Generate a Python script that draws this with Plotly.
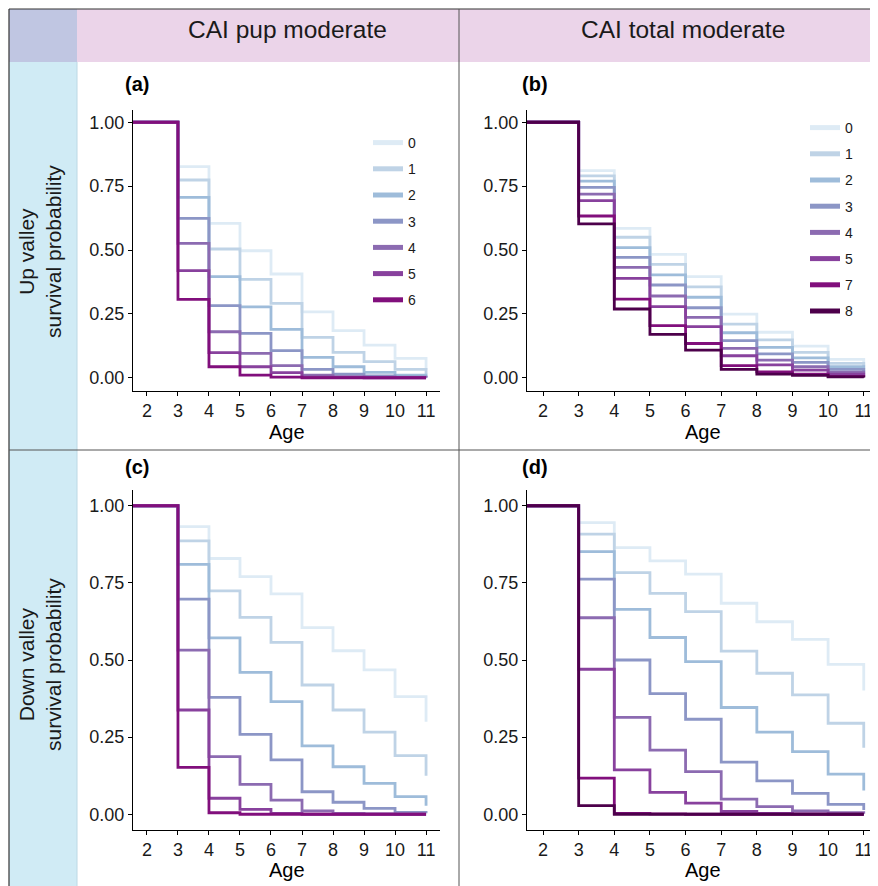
import plotly.graph_objects as go

# page body has an 8px margin: figure origin sits at (8, 8) of the window
OFF = 8
W, H = 870, 878
FONT = "Liberation Sans, Arial, Helvetica, sans-serif"

ages = [1, 2, 3, 4, 5, 6, 7, 8, 9, 10, 11]
x_ticks = [2, 3, 4, 5, 6, 7, 8, 9, 10, 11]
y_ticks = [0, 0.25, 0.5, 0.75, 1.0]

col_titles = ["CAI pup moderate", "CAI total moderate"]
row_titles = ["Up valley<br>survival probability", "Down valley<br>survival probability"]
panel_tags = ["(a)", "(b)", "(c)", "(d)"]

# series colours (BuPu palette, by group id)
group_colors = {
    "0": "#DEEBF5", "1": "#BFD3E6", "2": "#9EBCDA", "3": "#8C96C6",
    "4": "#8C6BB1", "5": "#88419D", "6": "#810F7C", "7": "#810F7C", "8": "#4D004B",
}

# (a) Up valley, CAI pup moderate
up_pup = {
    "0": [1, 1, 0.826, 0.604, 0.497, 0.406, 0.258, 0.184, 0.128, 0.076, 0.030],
    "1": [1, 1, 0.774, 0.504, 0.385, 0.291, 0.158, 0.099, 0.063, 0.033, 0.015],
    "2": [1, 1, 0.706, 0.396, 0.277, 0.189, 0.080, 0.043, 0.021, 0.010, 0.005],
    "3": [1, 1, 0.624, 0.282, 0.174, 0.106, 0.033, 0.014, 0.007, 0.003, 0.001],
    "4": [1, 1, 0.526, 0.180, 0.095, 0.047, 0.010, 0.004, 0.002, 0.001, 0.0],
    "5": [1, 1, 0.419, 0.098, 0.043, 0.020, 0.002, 0.001, 0.0, 0.0, 0.0],
    "6": [1, 1, 0.307, 0.043, 0.010, 0.002, 0.0, 0.0, 0.0, 0.0, 0.0],
}
# (b) Up valley, CAI total moderate
up_total = {
    "0": [1, 1, 0.811, 0.585, 0.483, 0.396, 0.249, 0.178, 0.124, 0.072, 0.045],
    "1": [1, 1, 0.790, 0.550, 0.444, 0.356, 0.210, 0.148, 0.099, 0.056, 0.035],
    "2": [1, 1, 0.770, 0.509, 0.403, 0.315, 0.176, 0.119, 0.078, 0.043, 0.025],
    "3": [1, 1, 0.745, 0.471, 0.363, 0.274, 0.145, 0.093, 0.060, 0.033, 0.018],
    "4": [1, 1, 0.719, 0.432, 0.320, 0.236, 0.115, 0.069, 0.043, 0.022, 0.011],
    "5": [1, 1, 0.693, 0.389, 0.278, 0.200, 0.086, 0.050, 0.030, 0.014, 0.006],
    "7": [1, 1, 0.633, 0.308, 0.204, 0.134, 0.047, 0.023, 0.014, 0.005, 0.002],
    "8": [1, 1, 0.602, 0.269, 0.170, 0.108, 0.033, 0.014, 0.009, 0.003, 0.001],
}
# (c) Down valley, CAI pup moderate
down_pup = {
    "0": [1, 1, 0.932, 0.829, 0.770, 0.714, 0.605, 0.530, 0.468, 0.381, 0.300],
    "1": [1, 1, 0.886, 0.724, 0.638, 0.557, 0.419, 0.338, 0.266, 0.190, 0.125],
    "2": [1, 1, 0.810, 0.572, 0.460, 0.365, 0.222, 0.154, 0.100, 0.057, 0.028],
    "3": [1, 1, 0.697, 0.379, 0.259, 0.176, 0.073, 0.039, 0.019, 0.006, 0.003],
    "4": [1, 1, 0.532, 0.187, 0.097, 0.046, 0.011, 0.003, 0.001, 0.0, 0.0],
    "5": [1, 1, 0.338, 0.052, 0.016, 0.003, 0.0, 0.0, 0.0, 0.0, 0.0],
    "6": [1, 1, 0.152, 0.005, 0.0, 0.0, 0.0, 0.0, 0.0, 0.0, 0.0],
}
# (d) Down valley, CAI total moderate
down_total = {
    "0": [1, 1, 0.945, 0.864, 0.821, 0.778, 0.684, 0.624, 0.567, 0.486, 0.401],
    "1": [1, 1, 0.908, 0.783, 0.716, 0.657, 0.529, 0.457, 0.387, 0.295, 0.216],
    "2": [1, 1, 0.851, 0.664, 0.573, 0.495, 0.346, 0.266, 0.203, 0.130, 0.077],
    "3": [1, 1, 0.762, 0.500, 0.391, 0.308, 0.169, 0.108, 0.068, 0.032, 0.014],
    "4": [1, 1, 0.637, 0.314, 0.208, 0.138, 0.049, 0.025, 0.011, 0.005, 0.002],
    "5": [1, 1, 0.470, 0.144, 0.071, 0.036, 0.009, 0.003, 0.001, 0.0, 0.0],
    "7": [1, 1, 0.117, 0.003, 0.001, 0.0, 0.0, 0.0, 0.0, 0.0, 0.0],
    "8": [1, 1, 0.028, 0.0, 0.0, 0.0, 0.0, 0.0, 0.0, 0.0, 0.0],
}


def px_x(p):
    return min(1.0, (p - OFF) / W)


def px_y(p):
    return max(0.0, 1 - (p - OFF) / H)


fig = go.Figure()

panels = [
    (up_pup, "x", "y", "legend"),
    (up_total, "x2", "y2", "legend2"),
    (down_pup, "x3", "y3", None),
    (down_total, "x4", "y4", None),
]
for data, xa, ya, leg in panels:
    for name, vals in data.items():
        kw = dict(legend=leg, showlegend=True, legendgroup=leg + name) if leg else dict(showlegend=False)
        fig.add_trace(go.Scatter(
            x=ages, y=vals, mode="lines", name=name,
            line=dict(shape="hv", color=group_colors[name], width=2.8),
            xaxis=xa, yaxis=ya, **kw))

# geometry (window-pixel derived)
xdom_left = [px_x(133), px_x(440)]
xdom_right = [px_x(527), 1.0]
ydom_top = [px_y(390.5), px_y(109.5)]
ydom_bot = [px_y(829.7), px_y(490.3)]

axis_common = dict(
    showline=True, linecolor="black", linewidth=1.3, mirror=False,
    ticks="outside", ticklen=4, tickwidth=1.2, tickcolor="black",
    showgrid=False, zeroline=False,
    tickfont=dict(family=FONT, size=18, color="#1A1A1A"),
)

layout_axes = {}
for i, (xd, yd, xr) in enumerate([
    (xdom_left, ydom_top, [1.55, 11.45]),
    (xdom_right, ydom_top, [1.55, 11.40]),
    (xdom_left, ydom_bot, [1.55, 11.45]),
    (xdom_right, ydom_bot, [1.55, 11.40]),
]):
    sx = "" if i == 0 else str(i + 1)
    layout_axes["xaxis" + sx] = dict(domain=xd, range=xr, anchor="y" + sx,
                                     tickvals=x_ticks, **axis_common)
    layout_axes["yaxis" + sx] = dict(domain=yd, range=[-0.05, 1.05], anchor="x" + sx,
                                     tickvals=y_ticks, tickformat=".2f", **axis_common)

fig.update_layout(**layout_axes)

# strip backgrounds and dividers
shapes = [
    dict(type="rect", xref="paper", yref="paper", x0=px_x(77), x1=1.0, y0=px_y(62), y1=px_y(9),
         fillcolor="#EBD4E9", line_width=0, layer="below"),
    dict(type="rect", xref="paper", yref="paper", x0=px_x(9), x1=px_x(77), y0=px_y(62), y1=px_y(9),
         fillcolor="#C0C6E2", line_width=0, layer="below"),
    dict(type="rect", xref="paper", yref="paper", x0=px_x(9), x1=px_x(77), y0=0, y1=px_y(62),
         fillcolor="#D0EBF5", line_width=0, layer="below"),
    dict(type="line", xref="paper", yref="paper", x0=px_x(77), x1=px_x(77), y0=0, y1=px_y(62),
         line=dict(color="#BCD8E4", width=1), layer="below"),
    # outer frame
    dict(type="line", xref="paper", yref="paper", x0=px_x(9), x1=1.0, y0=px_y(9), y1=px_y(9),
         line=dict(color="#333333", width=1.2)),
    dict(type="line", xref="paper", yref="paper", x0=px_x(9), x1=px_x(9), y0=0, y1=px_y(9),
         line=dict(color="#333333", width=1.2)),
    # dividers
    dict(type="line", xref="paper", yref="paper", x0=px_x(459), x1=px_x(459), y0=0, y1=px_y(9),
         line=dict(color="#555555", width=1)),
    dict(type="line", xref="paper", yref="paper", x0=px_x(9), x1=1.0, y0=px_y(450), y1=px_y(450),
         line=dict(color="#555555", width=1)),
]

annotations = []
# column strip titles
for txt, cx in zip(col_titles, [287, 683]):
    annotations.append(dict(text=txt, x=px_x(cx), y=px_y(30), xref="paper", yref="paper",
                            showarrow=False, xanchor="center", yanchor="middle",
                            font=dict(family=FONT, size=24.5, color="#1A1A1A")))
# row strip titles
for txt, cy in zip(row_titles, [252, 665]):
    annotations.append(dict(text=txt, x=px_x(40), y=px_y(cy), xref="paper", yref="paper",
                            showarrow=False, textangle=-90, xanchor="center", yanchor="middle",
                            font=dict(family=FONT, size=21, color="#1A1A1A")))
# panel tags
for txt, (cx, cy) in zip(panel_tags, [(137, 84), (535, 84), (137, 467), (535, 467)]):
    annotations.append(dict(text="<b>" + txt + "</b>", x=px_x(cx), y=px_y(cy), xref="paper",
                            yref="paper", showarrow=False, xanchor="center", yanchor="middle",
                            font=dict(family=FONT, size=20, color="black")))
# x-axis titles
for cx, cy in [(287, 432), (703, 432), (287, 870), (703, 870)]:
    annotations.append(dict(text="Age", x=px_x(cx), y=px_y(cy), xref="paper", yref="paper",
                            showarrow=False, xanchor="center", yanchor="middle",
                            font=dict(family=FONT, size=20, color="black")))

legend_common = dict(
    bgcolor="rgba(0,0,0,0)", borderwidth=0, tracegroupgap=5,
    font=dict(family=FONT, size=14, color="#1A1A1A"),
    xanchor="left", yanchor="top", itemsizing="constant",
)

fig.update_layout(
    width=W, height=H,
    margin=dict(l=0, r=0, t=0, b=0),
    paper_bgcolor="white", plot_bgcolor="white",
    font=dict(family=FONT),
    shapes=shapes, annotations=annotations,
    legend=dict(x=px_x(368), y=px_y(127), **legend_common),
    legend2=dict(x=px_x(805), y=px_y(112), **legend_common),
)

fig.write_html("out.html")
